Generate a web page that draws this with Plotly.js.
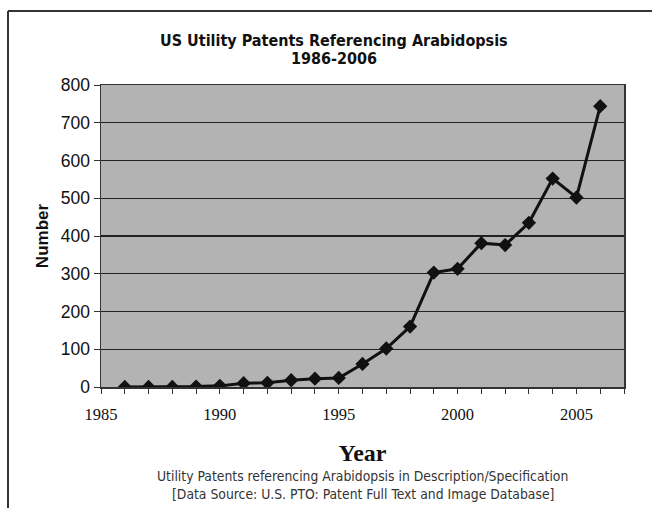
<!DOCTYPE html>
<html>
<head>
<meta charset="utf-8">
<script src="https://cdn.plot.ly/plotly-3.0.1.min.js"></script>
<style>html,body{margin:0;padding:0;background:#fff;}#chart{width:652px;height:508px;}</style>
</head>
<body>
<div id="chart"></div>
<script>
const years = [1986,1987,1988,1989,1990,1991,1992,1993,1994,1995,1996,1997,1998,1999,2000,2001,2002,2003,2004,2005,2006];
const patents = [0,0,0,1,3,10,11,18,22,24,61,102,160,303,313,381,376,435,552,502,744];
const yTicks = [0,100,200,300,400,500,600,700,800];
const xTicks = [1985,1990,1995,2000,2005];
const titleLines = ["US Utility Patents Referencing Arabidopsis","1986-2006"];
const captionLines = ["Utility Patents referencing Arabidopsis in Description/Specification","[Data Source: U.S. PTO: Patent Full Text and Image Database]"];

const narrow = "'DejaVu Sans Condensed', sans-serif";

const trace = {
  x: years, y: patents, type: 'scatter', mode: 'lines+markers',
  line: {color: '#111', width: 3},
  marker: {symbol: 'diamond', size: 11, color: '#111'},
  hoverinfo: 'x+y'
};

// pixel -> paper helpers (plot area: x 101..624, y 85..387)
const px = v => (v - 101) / 523;
const py = v => (387 - v) / 302;

const titleAnn = titleLines.map((t, i) => ({
  text: '<b>' + t + '</b>', xref: 'paper', yref: 'paper', x: px(334), y: py(40 + 18*i),
  xanchor: 'center', yanchor: 'middle', showarrow: false,
  font: {family: narrow, size: 16, color: '#111'}
}));
const capAnn = captionLines.map((t, i) => ({
  text: t, xref: 'paper', yref: 'paper', x: 0.5, y: py(476 + 18*i),
  xanchor: 'center', yanchor: 'middle', showarrow: false,
  font: {family: narrow, size: 13.8, color: '#333'}
}));

const layout = {
  width: 652, height: 508,
  margin: {l: 101, r: 28, t: 85, b: 121},
  paper_bgcolor: '#fff', plot_bgcolor: '#b3b3b3',
  showlegend: false,
  xaxis: {
    range: [1985, 2007],
    tickvals: xTicks, ticktext: xTicks.map(String),
    ticks: 'outside', ticklen: 5, tickcolor: '#333', tickwidth: 1,
    ticklabelstandoff: 7,
    minor: {dtick: 1, tick0: 1985, ticks: 'outside', ticklen: 5, tickcolor: '#333', tickwidth: 1, showgrid: false},
    showgrid: false, zeroline: false,
    showline: true, linecolor: '#333', linewidth: 1.5, mirror: true,
    tickfont: {family: "'Liberation Serif', 'Times New Roman', serif", size: 16.5, color: '#111'},
    title: {text: '<b>Year</b>', font: {family: "'Liberation Serif', 'Times New Roman', serif", size: 24, color: '#111'}, standoff: 21}
  },
  yaxis: {
    range: [0, 800],
    tickvals: yTicks,
    ticks: 'outside', ticklen: 6, tickcolor: '#333', tickwidth: 1,
    showgrid: true, gridcolor: '#222', gridwidth: 1.3,
    zeroline: false,
    showline: true, linecolor: '#333', linewidth: 1.5, mirror: true,
    tickfont: {family: "'Liberation Sans', Arial, sans-serif", size: 17.5, color: '#111'},
    title: {text: '<b>Number</b>', font: {family: "'Liberation Sans', Arial, sans-serif", size: 17, color: '#111'}, standoff: 8}
  },
  annotations: titleAnn.concat(capAnn),
  shapes: [
    {type: 'line', xref: 'paper', yref: 'paper', x0: px(8), x1: px(8), y0: py(11), y1: py(510), line: {color: '#333', width: 2}},
    {type: 'line', xref: 'paper', yref: 'paper', x0: px(8), x1: px(654), y0: py(11), y1: py(11), line: {color: '#333', width: 2}}
  ]
};

Plotly.newPlot('chart', [trace], layout, {displayModeBar: false, staticPlot: true});
</script>
</body>
</html>
